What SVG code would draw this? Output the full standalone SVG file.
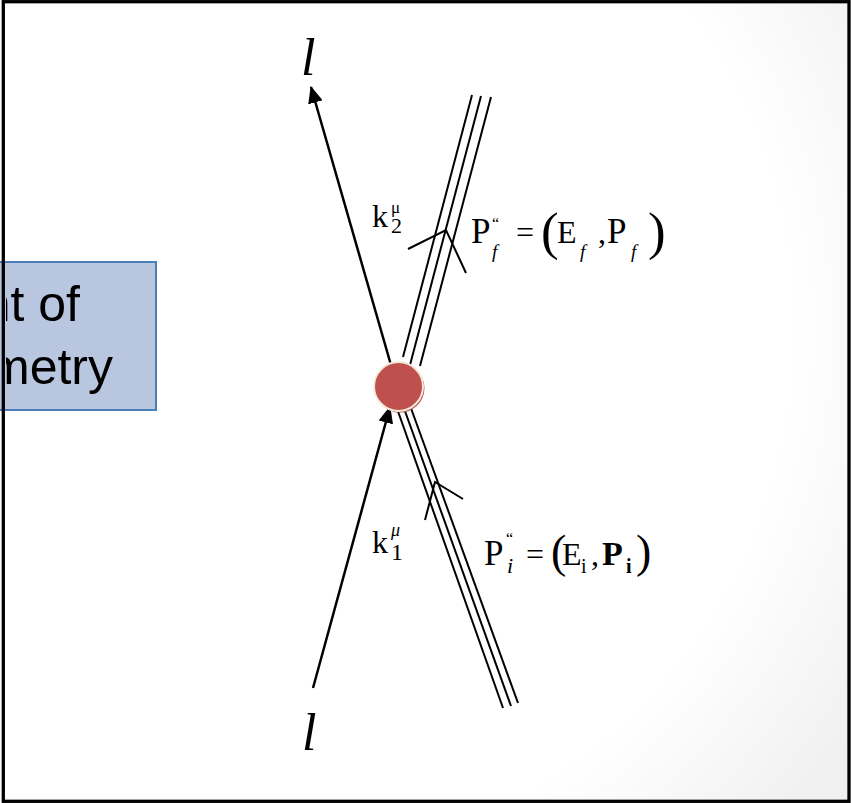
<svg xmlns="http://www.w3.org/2000/svg" width="851" height="803" viewBox="0 0 851 803">
  <defs>
    <radialGradient id="bg" cx="260" cy="330" r="720" gradientUnits="userSpaceOnUse">
      <stop offset="0" stop-color="#ffffff"/>
      <stop offset="0.74" stop-color="#ffffff"/>
      <stop offset="1" stop-color="#f0f0f0"/>
    </radialGradient>
    <clipPath id="boxclip">
      <rect x="6" y="0" width="160" height="803"/>
    </clipPath>
    <marker id="arr" markerUnits="userSpaceOnUse" markerWidth="18" markerHeight="15" refX="16" refY="7.5" orient="auto">
      <path d="M0,0 L17,7.5 L0,15 Z" fill="#000"/>
    </marker>
    <style>
      .ln { stroke: #000; stroke-width: 2.5; fill: none; }
      .tr { stroke: #000; stroke-width: 2; fill: none; }
      .m { font-family: "Liberation Serif", "Times New Roman", serif; fill: #000; }
      .it { font-style: italic; }
      .bx { font-family: "Liberation Sans", Arial, sans-serif; font-size: 50px; fill: #000; }
    </style>
  </defs>

  <rect x="0" y="0" width="851" height="803" fill="url(#bg)"/>

  <g id="box">
    <rect x="-10" y="262" width="166" height="148" fill="#b9c6e0" stroke="#4a7ebb" stroke-width="2"/>
    <g clip-path="url(#boxclip)">
      <text class="bx" x="80" y="321" text-anchor="end">nt of</text>
      <text class="bx" x="113" y="384" text-anchor="end">metry</text>
    </g>
  </g>

  <g id="connectors">
    <line class="ln" x1="313" y1="688" x2="390" y2="407" marker-end="url(#arr)"/>
    <line class="ln" x1="397" y1="386" x2="311" y2="87" marker-end="url(#arr)"/>
    <!-- outgoing nucleus triple line -->
    <line class="tr" x1="472" y1="95" x2="403" y2="357"/>
    <line class="tr" x1="481" y1="96" x2="410" y2="365"/>
    <line class="tr" x1="491" y1="97" x2="420" y2="366"/>
    <!-- incoming nucleus triple line -->
    <line class="tr" x1="394" y1="400" x2="503" y2="708"/>
    <line class="tr" x1="401" y1="400" x2="511" y2="706"/>
    <line class="tr" x1="408" y1="400" x2="518" y2="703"/>
    <!-- momentum chevrons -->
    <polyline class="tr" points="408,249 446,230 466,273"/>
    <polyline class="tr" points="425,520 435,482 463,499"/>
  </g>

  <g id="vertex">
    <circle cx="400" cy="388" r="24.5" fill="#b84a47"/>
    <circle cx="398.5" cy="386.5" r="24.5" fill="#c0504d" stroke="#f2ecdc" stroke-width="2"/>
  </g>

  <g id="label-l-top">
    <text class="m it" x="301" y="75" font-size="52">l</text>
  </g>
  <g id="label-l-bottom">
    <text class="m it" x="302" y="750" font-size="52">l</text>
  </g>

  <g id="label-k2">
    <text class="m" x="372" y="227" font-size="32">k</text>
    <text class="m" x="391" y="213" font-size="17">μ</text>
    <text class="m" x="391" y="233" font-size="22">2</text>
  </g>
  <g id="label-k1">
    <text class="m" x="372" y="553" font-size="32">k</text>
    <text class="m it" x="391" y="536" font-size="18">μ</text>
    <text class="m" x="391" y="560" font-size="24">1</text>
  </g>

  <g id="label-pf">
    <text class="m" x="471" y="243" font-size="35">P</text>
    <text class="m" x="492" y="229" font-size="16">“</text>
    <text class="m it" x="492" y="258" font-size="19">f</text>
    <text class="m" x="516" y="243" font-size="32">=</text>
    <text class="m" x="541" y="249" font-size="53">(</text>
    <text class="m" x="557" y="243" font-size="32">E</text>
    <text class="m it" x="580" y="258" font-size="19">f</text>
    <text class="m" x="598" y="243" font-size="32">,</text>
    <text class="m" x="607" y="243" font-size="35">P</text>
    <text class="m it" x="631" y="258" font-size="19">f</text>
    <text class="m" x="648" y="249" font-size="53">)</text>
  </g>

  <g id="label-pi">
    <text class="m" x="484" y="565" font-size="35">P</text>
    <text class="m" x="506" y="544" font-size="16">“</text>
    <text class="m it" x="507" y="573" font-size="22">i</text>
    <text class="m" x="526" y="565" font-size="32">=</text>
    <text class="m" x="551" y="567" font-size="46">(</text>
    <text class="m" x="562" y="565" font-size="32">E</text>
    <text class="m" x="581" y="573" font-size="20">i</text>
    <text class="m" x="591" y="565" font-size="32">,</text>
    <text class="m" x="602" y="565" font-size="34" font-weight="bold">P</text>
    <text class="m" x="626" y="573" font-size="20" font-weight="bold">i</text>
    <text class="m" x="636" y="567" font-size="46">)</text>
  </g>

  <rect x="3.3" y="1.7" width="845.7" height="799.6" fill="none" stroke="#000" stroke-width="3.3"/>
</svg>
